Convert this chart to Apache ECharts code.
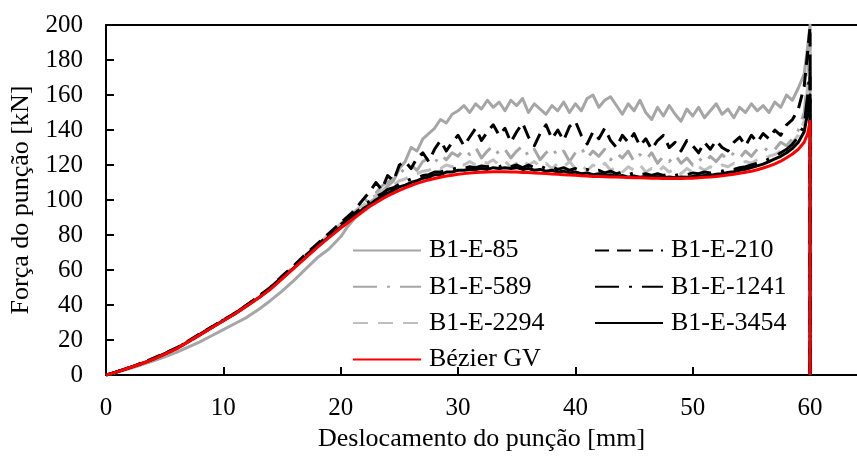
<!DOCTYPE html>
<html>
<head>
<meta charset="utf-8">
<script src="https://cdn.jsdelivr.net/npm/echarts@6/dist/echarts.min.js"></script>
<style>html,body{margin:0;padding:0;background:#fff}#c{width:857px;height:457px}</style>
</head>
<body>
<div id="c"></div>
<script>
// Displacement values (mm) shared by all curves
const disp = [0,1,2,3,4,5,6,7,8,9,10,11,12,13,14,15,16,17,18,19,20,
20.5,21,21.5,22,22.5,23,23.5,24,24.5,25,25.5,26,26.5,27,27.5,28,28.5,29,29.5,30,
30.5,31,31.5,32,32.5,33,33.5,34,34.5,35,35.5,36,36.5,37,37.5,38,38.5,39,39.5,40,
40.5,41,41.5,42,42.5,43,43.5,44,44.5,45,45.5,46,46.5,47,47.5,48,48.5,49,49.5,50,
50.5,51,51.5,52,52.5,53,53.5,54,54.5,55,55.5,56,56.5,57,57.5,58,58.5,59,59.5,
59.8,60,60];

const b1e85 = [0,1.8,3.8,5.8,8,10.5,13,16,19,22.5,26,29.5,33,37.5,42.5,48,54,60.5,67,72,79,
84,88,92,95,99,101,105,108,111,118,122,130,128,135,138,141,146,144,149,151,
154,150,155,152,157,153,156,151,157,154,158,150,155,152,149,154,151,156,150,155,
151,158,160,153,157,159,154,149,155,151,157,150,146,153,148,154,149,145,152,148,
153,147,151,155,149,152,147,153,150,155,151,154,150,156,153,160,157,164,172,
188,200,0];

const b1e210 = [0,2,4.3,6.8,9.5,12.5,15.5,19.5,23.5,27.5,31.5,35.5,40,45,50,56.5,62.5,69,75,81,87,
90,93,97,101,105,110,106,114,111,120,122,118,124,127,122,129,134,128,133,137,
131,136,141,134,139,143,137,141,133,139,144,136,131,138,143,135,140,134,142,145,
137,132,139,135,141,134,130,137,133,138,131,135,129,134,137,130,133,128,134,131,
127,133,129,134,130,128,133,136,131,137,133,138,135,140,137,143,146,152,165,
185,199,0];

const b1e589 = [0,1.9,4.1,6.4,9,12,15,18.8,22.8,27,31,35,39.5,44.5,49.5,55.5,61.5,68,74,80,86,
89,92.5,95,99,102,104,108,110,113,115,118,120,117,122,124,121,126,123,127,125,
129,126,130,124,128,131,126,129,124,128,131,125,129,123,127,130,125,128,122,127,
130,124,128,125,129,123,127,124,128,122,126,123,127,121,125,122,126,121,124,120,
124,121,125,122,126,123,127,124,128,125,129,127,131,129,133,131,135,140,150,
170,190,0];

const b1e1241 = [0,2.1,4.3,6.7,9.2,12.2,15.3,19.3,23.3,27.4,31.4,35.4,40,44.8,50,56,62,68.3,74.3,80,86,
88.5,91.5,94,97,99.5,102,103.5,106,107,109,110.5,112,112.5,114,114.5,116,116,117,117.5,118.5,
118,119,118.5,119.5,119,120,119,120.5,119,120,118.5,120,118.5,119.5,118,119,117.5,118.5,117,118,
116.5,117.5,116,117,115.5,116.5,115,116,114.5,115.5,114.5,115,114,115,114,115,114,115,114.5,115.5,
115,116,115.5,116.5,116.5,117.5,117.5,118.5,119,120,121,122,123.5,125,127,129,132,136,143,
160,175,0];

const b1e2294 = [0,2,4.2,6.6,9.2,12.2,15.3,19.2,23.2,27.3,31.3,35.3,39.8,44.6,49.8,55.8,62,68.5,74.5,80.5,86.5,
90,92,95.5,97.5,101,102.5,105,107,108.5,111,112,114,115,116.5,117,119,118,120,119,121,
120,122,120,122,121,123,120,122,119,121,123,120,122,119,121,118,121,119,122,118,
120,117,120,118,121,117,119,116,119,117,120,116,118,116,119,116,118,115,118,116,
119,117,119,118,120,119,121,120,122,121,123,123,125,126,128,130,133,137,145,
165,185,0];

const b1e3454 = [0,2,4.2,6.5,9,12,15.1,19.1,23.1,27.1,31.1,35.1,39.6,44.2,49.2,55.2,61.2,67.3,73.3,79,84.5,
87.5,90,92.5,95.5,97.5,100,102,104,105.5,107.5,108.5,110,111,112.5,113,114.5,114.5,116,116,117,
117,117.5,117.5,118,117.5,118.5,118,118.5,118,118.5,117.5,118,117,117.5,116.5,117,116,116.5,115.5,116,
115,115.5,114.5,115,114,114.5,113.5,114,113,113.8,113,113.5,112.8,113.3,112.8,113.2,112.8,113.2,113,113.5,
113.5,114,114,114.7,115,115.7,116.2,117,117.6,118.5,119.5,120.5,122,123.5,125,127,129.5,133,139,
150,160,0];

const bezierGV = [0,2,4.2,6.5,9,12,15,19,23,27,31,35,39.5,44,49,55,61,67,73,78.5,84,
86.5,89,91.5,94,96.5,98.5,100.5,102.3,104,105.5,107,108.3,109.5,110.5,111.5,112.3,113,113.7,114.2,114.7,
115.1,115.4,115.7,115.9,116,116.1,116.1,116.1,116,116,115.8,115.7,115.5,115.3,115.1,114.9,114.7,114.5,114.3,114.1,
113.9,113.7,113.5,113.4,113.3,113.2,113.1,113,112.9,112.8,112.7,112.6,112.5,112.4,112.35,112.3,112.3,112.3,112.4,112.5,
112.7,113,113.2,113.5,113.9,114.3,114.8,115.3,115.9,116.5,117.3,118.3,119.4,120.7,122.2,124.2,126.3,129,133,
138,145,0];

const xTicks = [0,10,20,30,40,50,60];
const yTicks = [0,20,40,60,80,100,120,140,160,180,200];

const FONT = 'Liberation Serif';
const pairs = ys => disp.map((x,i)=>[x, ys[i]]);

const seriesDefs = [
  {name:'B1-E-85', data:b1e85, color:'#a6a6a6', type:'solid', w:3},
  {name:'B1-E-589', data:b1e589, color:'#a6a6a6', type:[24,10,3,10], w:3},
  {name:'B1-E-2294', data:b1e2294, color:'#bfbfbf', type:[15,10], w:3},
  {name:'B1-E-210', data:b1e210, color:'#000000', type:[14,8], w:3},
  {name:'B1-E-1241', data:b1e1241, color:'#000000', type:[24,10,3,10], w:3},
  {name:'B1-E-3454', data:b1e3454, color:'#000000', type:'solid', w:3},
  {name:'Bézier GV', data:bezierGV, color:'#ff0000', type:'solid', w:3}
];

const chart = echarts.init(document.getElementById('c'), null, {renderer:'canvas'});
const legendCommon = {
  orient:'vertical', itemWidth:68, itemHeight:20, itemGap:10.3, padding:0,
  itemStyle:{color:'rgba(0,0,0,0)', borderWidth:0, borderColor:'rgba(0,0,0,0)'},
  textStyle:{fontFamily:FONT, fontSize:26, color:'#000', padding:[0,0,0,3]},
  selectedMode:false
};
chart.setOption({
  animation:false,
  backgroundColor:'#fff',
  textStyle:{fontFamily:FONT},
  grid:{left:106, right:0, top:25, bottom:76, containLabel:false},
  legend:[
    Object.assign({left:352, top:237.5, data:['B1-E-85','B1-E-589','B1-E-2294','Bézier GV']}, legendCommon),
    Object.assign({left:594, top:237.5, data:['B1-E-210','B1-E-1241','B1-E-3454']}, legendCommon)
  ],
  xAxis:[{
    type:'value', min:xTicks[0], max:64, interval:10,
    name:'Deslocamento do punção [mm]', nameLocation:'middle', nameGap:50,
    nameTextStyle:{fontFamily:FONT, fontSize:26, color:'#000'},
    axisLine:{show:true, onZero:false, lineStyle:{color:'#000', width:2}},
    axisTick:{show:true, inside:true, length:8, lineStyle:{color:'#000', width:2}},
    axisLabel:{fontFamily:FONT, fontSize:25, color:'#000', margin:21, showMaxLabel:false,
      formatter:v=> xTicks.indexOf(v)>=0 ? String(v) : ''},
    splitLine:{show:false}
  },{
    type:'value', min:0, max:64, position:'top',
    axisLine:{show:true, onZero:false, lineStyle:{color:'#000', width:2}},
    axisTick:{show:false}, axisLabel:{show:false}, splitLine:{show:false}
  }],
  yAxis:{
    type:'value', min:yTicks[0], max:yTicks[yTicks.length-1], interval:20,
    name:'Força do punção [kN]', nameLocation:'middle', nameGap:70,
    nameTextStyle:{fontFamily:FONT, fontSize:26, color:'#000'},
    axisLine:{show:true, onZero:false, lineStyle:{color:'#000', width:2}},
    axisTick:{show:true, inside:true, length:8, lineStyle:{color:'#000', width:2}},
    axisLabel:{fontFamily:FONT, fontSize:25, color:'#000', margin:23},
    splitLine:{show:false}
  },
  series: seriesDefs.map(s=>({
    name:s.name, type:'line', data:pairs(s.data), xAxisIndex:0,
    showSymbol:false, symbol:'none', smooth:false,
    itemStyle:{color:s.color},
    lineStyle:{color:s.color, width:s.w, type:s.type, cap:'butt', join:'round'},
    emphasis:{disabled:true}
  }))
});
</script>
</body>
</html>
